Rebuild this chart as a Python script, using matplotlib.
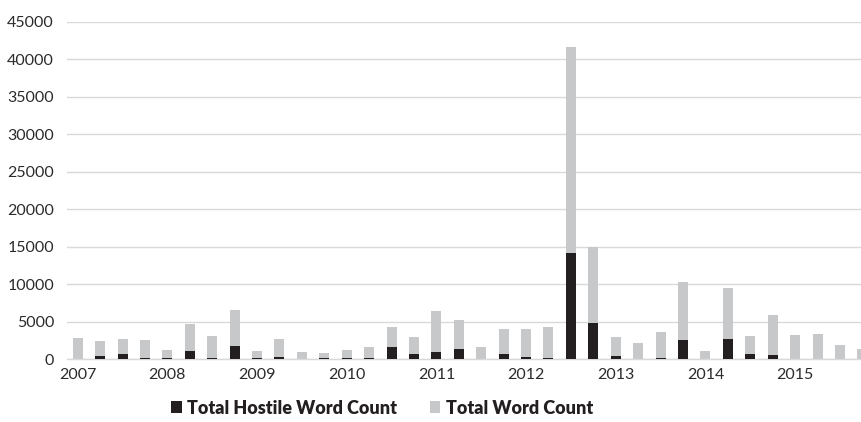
import matplotlib.pyplot as plt
import numpy as np

plt.rcParams['font.family'] = ['Lato', 'DejaVu Sans']

# quarterly word counts, 2007 Q1 onwards
total_words = [2800, 2440, 2670, 2610, 1280, 4750, 3110, 6580,
               1110, 2670, 930, 840, 1240, 1600, 4310, 3020,
               6490, 5290, 1640, 4040, 4000, 4310, 41680, 14960,
               3020, 2130, 3640, 10270, 1150, 9470, 3150, 5870,
               3290, 3370, 1910, 1370]
hostile_words = [0, 400, 750, 200, 200, 1070, 150, 1820,
                 200, 350, 0, 200, 200, 200, 1680, 750,
                 1020, 1330, 0, 660, 300, 200, 14240, 4800,
                 440, 0, 150, 2620, 0, 2670, 660, 620,
                 0, 0, 0, 0]
years = ['2007', '2008', '2009', '2010', '2011', '2012', '2013', '2014', '2015']

x = np.arange(len(total_words))

fig = plt.figure(figsize=(8.61, 4.22), dpi=100)
ax = fig.add_axes([66.5 / 861, 1 - 359.3 / 422, 1 - 66.5 / 861, (359.3 - 22) / 422])

gray = '#c7c8ca'
black = '#231f20'
ax.bar(x, total_words, width=0.446, color=gray, label='Total Word Count', zorder=2)
ax.bar(x, hostile_words, width=0.446, color=black, label='Total Hostile Word Count', zorder=3)

ax.set_xlim(-0.5, 34.94)
ax.set_ylim(0, 45000)
ax.set_yticks(range(0, 45001, 5000))
ax.set_xticks(x[::4])
ax.set_xticklabels(years)

ax.grid(axis='y', color='#d9d9d9', linewidth=1.0, zorder=0)
ax.set_axisbelow(True)
for side in ['top', 'right', 'left']:
    ax.spines[side].set_visible(False)
ax.spines['bottom'].set_color('#d9d9d9')
ax.spines['bottom'].set_linewidth(1.0)
ax.tick_params(axis='both', length=0, labelsize=11.5, colors='#2b2b2b')
ax.tick_params(axis='y', pad=9)
ax.tick_params(axis='x', pad=6)

handles, labels = ax.get_legend_handles_labels()
leg = fig.legend(handles[::-1], labels[::-1], loc='center', ncol=2,
                 bbox_to_anchor=(382 / 861, 1 - 408 / 422), frameon=False,
                 prop={'weight': 'heavy', 'size': 13},
                 handlelength=0.6, handleheight=0.6, handletextpad=0.3,
                 columnspacing=1.8, borderpad=0)
for t in leg.get_texts():
    t.set_color('#231f20')

fig.savefig('out.png', dpi=100)
